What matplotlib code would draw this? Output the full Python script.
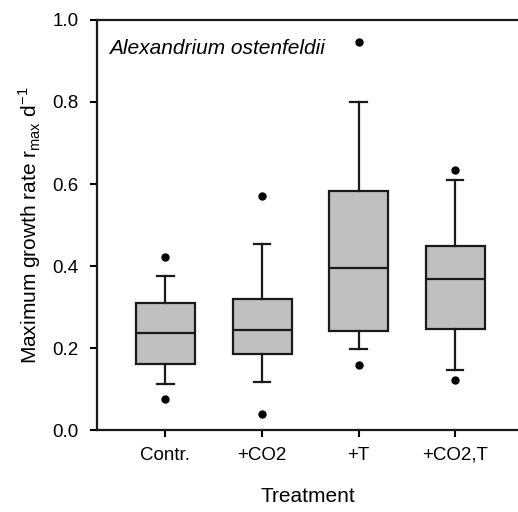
import matplotlib
matplotlib.use("Agg")
import matplotlib.pyplot as plt

# box statistics
treatments = ["Contr.", "+CO2", "+T", "+CO2,T"]
whisker_lo = [0.113, 0.118, 0.198, 0.147]
q1 = [0.162, 0.186, 0.242, 0.246]
median = [0.236, 0.245, 0.395, 0.369]
q3 = [0.311, 0.320, 0.582, 0.448]
whisker_hi = [0.376, 0.454, 0.800, 0.610]
outliers = [[0.075, 0.422], [0.039, 0.570], [0.159, 0.946], [0.121, 0.635]]

plt.rcParams['font.family'] = ['Liberation Sans', 'DejaVu Sans']

fig = plt.figure(figsize=(5.18, 5.12), dpi=100)
ax = fig.add_axes([0.187, 0.16, 0.815, 0.801])

stats = []
for i in range(len(treatments)):
    stats.append({'label': treatments[i], 'whislo': whisker_lo[i], 'q1': q1[i],
                  'med': median[i], 'q3': q3[i], 'whishi': whisker_hi[i],
                  'fliers': outliers[i]})

ax.bxp(stats, positions=[1, 2, 3, 4], widths=0.61, patch_artist=True,
       boxprops=dict(facecolor='#c0c0c0', edgecolor='#1a1a1a', linewidth=1.6),
       medianprops=dict(color='#1a1a1a', linewidth=1.6),
       whiskerprops=dict(color='#1a1a1a', linewidth=1.6),
       capprops=dict(color='#1a1a1a', linewidth=1.6),
       capwidths=0.17,
       flierprops=dict(marker='o', markerfacecolor='black', markeredgecolor='black',
                       markersize=5, linestyle='none'))

ax.set_xlim(0.29, 4.66)
ax.set_ylim(0, 1.0)
ax.set_yticks([0.0, 0.2, 0.4, 0.6, 0.8, 1.0])
ax.set_yticklabels(['0.0', '0.2', '0.4', '0.6', '0.8', '1.0'])
ax.tick_params(direction='out', length=5, width=1.5, labelsize=13.5, pad=7)
ax.tick_params(axis='y', pad=8)
for s in ['left', 'top', 'bottom']:
    ax.spines[s].set_linewidth(1.6)
    ax.spines[s].set_color('#1a1a1a')
ax.spines['right'].set_visible(False)

ax.set_xlabel('Treatment', fontsize=15, labelpad=17)
ax.set_ylabel(r'Maximum growth rate r$_{\mathregular{max}}$ d$^{\mathregular{-1}}$',
              fontsize=15, labelpad=7)
ax.text(0.03, 0.93, 'Alexandrium ostenfeldii', transform=ax.transAxes,
        fontsize=15, style='italic', va='center', ha='left')

fig.savefig('out.png', dpi=100)
